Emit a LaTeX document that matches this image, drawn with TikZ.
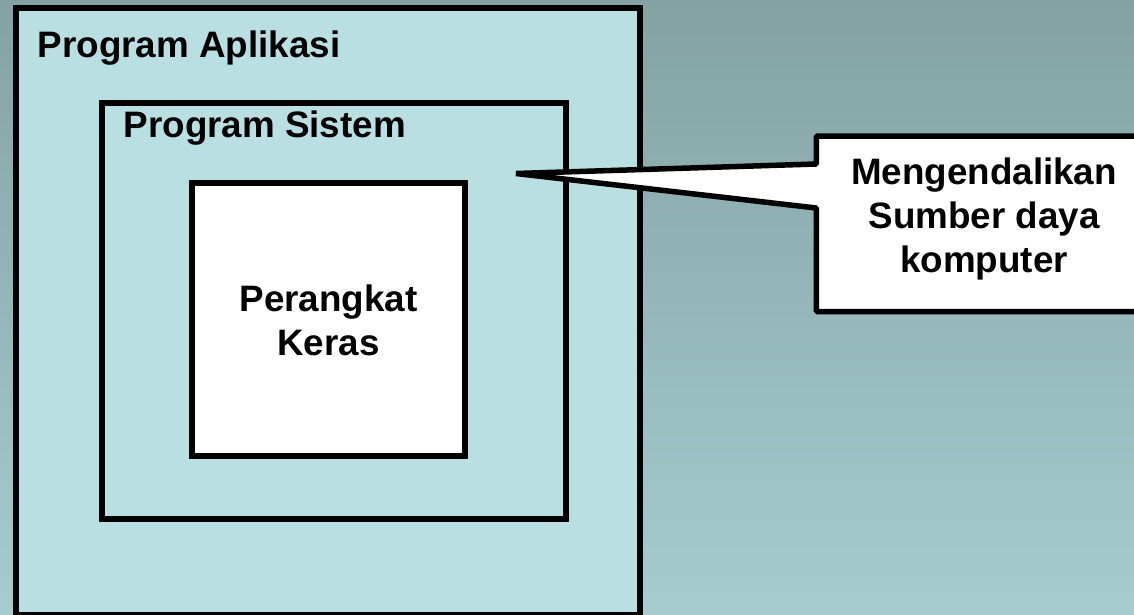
\documentclass[tikz,border=0pt]{standalone}
\usepackage{fontspec}
\setmainfont{Liberation Sans}
\definecolor{bgtop}{HTML}{84A2A4}
\definecolor{bgbottom}{HTML}{A6CCCF}
\definecolor{panelfill}{HTML}{B9DFE2}
\begin{document}
\begin{tikzpicture}[x=1pt, y=-1pt,
  panel/.style={rectangle, draw=black, line width=6pt, fill=panelfill,
                inner sep=0pt, outer sep=0pt, anchor=north west},
  label/.style={font=\fontsize{36.8}{44}\selectfont\bfseries,
                inner sep=0pt, anchor=base west},
  bubble/.style={draw=black, line width=5.5pt, fill=white, line join=bevel}]
  \useasboundingbox (0,0) rectangle (1134,614);
  \clip (0,0) rectangle (1134,614);
  % backdrop
  \shade[top color=bgtop, bottom color=bgbottom] (0,0) rectangle (1134,614);

  % nested layers
  \node[panel, minimum width=624pt, minimum height=607pt] (app) at (16,8) {};
  \node[panel, minimum width=464pt, minimum height=416pt] (sys) at (101.5,103.3) {};
  \node[panel, fill=white, minimum width=273pt, minimum height=272.5pt] (hw) at (191.5,183) {};

  \node[label] (appl) at (37.5,57) {Program Aplikasi};
  \node[label] (sysl) at (123.5,137) {Program Sistem};
  % multi-line labels: base anchor sits on the last line
  \node[label, anchor=base, align=center] (hwl) at (328.5,355) {Perangkat\\Keras};

  % callout pointing into the system layer
  \coordinate (tip) at (516,173.5);
  \coordinate (ptop) at (816.3,164);
  \coordinate (pbot) at (816.3,208);
  \draw[bubble] (tip) -- (ptop) |- (1170,136) |- (816.3,311.5) -- (pbot) -- cycle;
  \node[label, anchor=base, align=center] (notel) at (984,272.5)
    {Mengendalikan\\Sumber daya\\komputer};
\end{tikzpicture}
\end{document}
